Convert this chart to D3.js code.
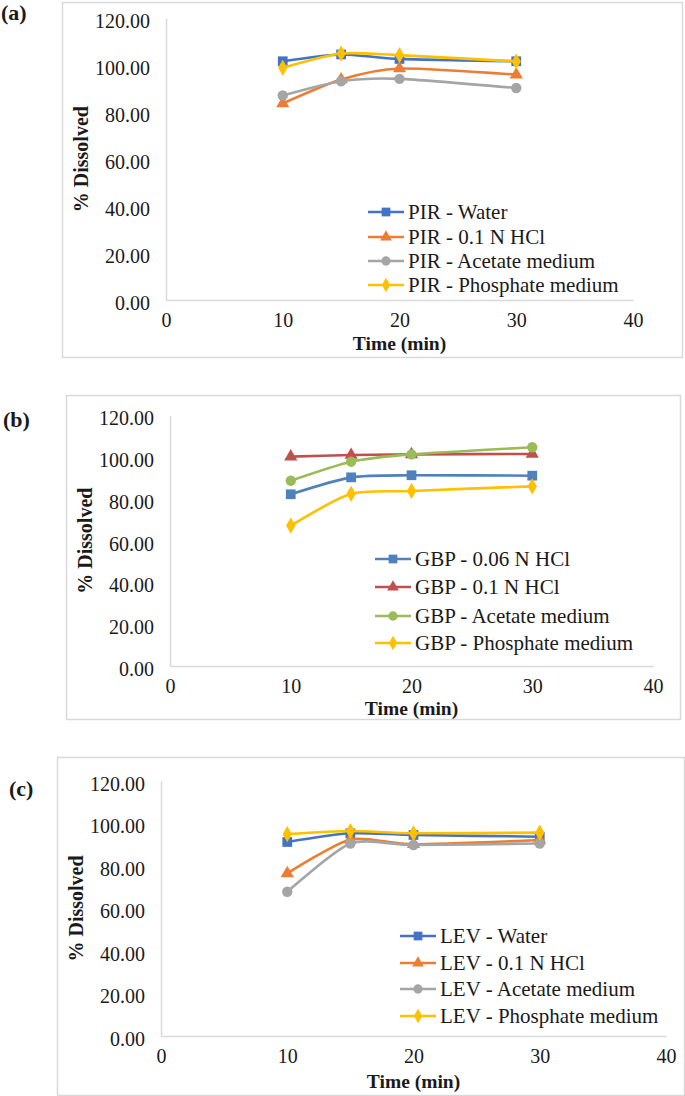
<!DOCTYPE html>
<html>
<head>
<meta charset="utf-8">
<script src="https://cdn.jsdelivr.net/npm/d3@7"></script>
<style>
  body { margin: 0; background: #fff; }
  text { font-family: "Liberation Serif", serif; fill: #1a1a1a; }
</style>
</head>
<body>
<script>
// dissolution profiles, three panels
var w = 685;
var h = 1096;

var times = [10, 15, 20, 30];
var xTicks = [0, 10, 20, 30, 40];
var yTicks = [0, 20, 40, 60, 80, 100, 120];

// (a) PIR
var pirNames = ["PIR - Water", "PIR - 0.1 N HCl", "PIR - Acetate medium", "PIR - Phosphate medium"];
var pirWater = [101.7, 104.6, 102.7, 101.7];
var pirHcl = [83.7, 93.9, 98.6, 96.0];
var pirAcetate = [87.1, 93.2, 94.2, 90.3];
var pirPhosphate = [98.9, 105.0, 104.3, 101.6];
var pirColors = ["#4472C4", "#ED7D31", "#A5A5A5", "#FFC000"];

// (b) GBP
var gbpNames = ["GBP - 0.06 N HCl", "GBP - 0.1 N HCl", "GBP - Acetate medium", "GBP - Phosphate medium"];
var gbpHcl006 = [82.2, 90.3, 91.3, 91.1];
var gbpHcl01 = [100.2, 101.0, 101.3, 101.5];
var gbpAcetate = [88.7, 97.8, 101.3, 104.7];
var gbpPhosphate = [67.2, 82.4, 83.8, 86.0];
var gbpColors = ["#4F81BD", "#C0504D", "#9BBB59", "#FFC000"];

// (c) LEV
var levNames = ["LEV - Water", "LEV - 0.1 N HCl", "LEV - Acetate medium", "LEV - Phosphate medium"];
var levWater = [91.3, 95.4, 94.6, 93.8];
var levHcl = [76.5, 92.5, 90.2, 92.2];
var levAcetate = [67.9, 90.6, 89.9, 90.6];
var levPhosphate = [95.0, 96.5, 95.4, 95.7];
var levColors = ["#4472C4", "#ED7D31", "#A5A5A5", "#FFC000"];

var markers = ["square", "triangle", "circle", "diamond"];

var svg = d3.select("body").append("svg")
            .attr("width", w)
            .attr("height", h);

// marker shape
function symbolFor(m, big) {
  var s = big ? 1 : 0.8;
  if (m == "square") return d3.symbol(d3.symbolSquare, 95 * s)();
  if (m == "triangle") return d3.symbol(d3.symbolTriangle, 75 * s)();
  if (m == "circle") return d3.symbol(d3.symbolCircle, 85 * s)();
  return d3.symbol(d3.symbolDiamond, 75 * s)();
}

function drawPanel(p) {
  var g = svg.append("g");

  // outer frame
  g.append("rect")
    .attr("x", p.frame[0] + 0.5).attr("y", p.frame[1] + 0.5)
    .attr("width", p.frame[2] - p.frame[0]).attr("height", p.frame[3] - p.frame[1])
    .attr("fill", "none").attr("stroke", "#d9d9d9").attr("stroke-width", 1.5);

  g.append("text")
    .text(p.tag)
    .attr("x", p.tagX).attr("y", p.tagY)
    .attr("dy", "0.35em")
    .attr("font-size", 22).attr("font-weight", "bold");

  var x = d3.scaleLinear().domain([0, 40]).range([p.x0, p.x1]);
  var y = d3.scaleLinear().domain([0, 120]).range([p.y0, p.y1]);

  var xAxis = g.append("g")
    .attr("transform", "translate(0," + p.y0 + ")")
    .call(d3.axisBottom(x).tickValues(xTicks).tickSize(0).tickPadding(13));
  var yAxis = g.append("g")
    .attr("transform", "translate(" + p.x0 + ",0)")
    .call(d3.axisLeft(y).tickValues(yTicks).tickFormat(d3.format(".2f")).tickSize(0).tickPadding(16));

  [xAxis, yAxis].forEach(function(a) {
    a.select(".domain").attr("stroke", "#d9d9d9").attr("stroke-width", 1.5);
    a.selectAll("text").attr("font-size", 20).attr("font-family", "Liberation Serif").attr("fill", "#1a1a1a");
  });
  yAxis.selectAll("text").attr("dy", "0.47em");

  // axis titles
  g.append("text")
    .text("Time (min)")
    .attr("x", (p.x0 + p.x1) / 2).attr("y", p.y0 + p.xtOff)
    .attr("dy", "0.35em").attr("text-anchor", "middle")
    .attr("font-size", 19.5).attr("font-weight", "bold");
  g.append("text")
    .text("% Dissolved")
    .attr("transform", "translate(" + (p.x0 - 85) + "," + (p.y0 + p.y1) / 2 + ") rotate(-90)")
    .attr("dy", "0.35em").attr("text-anchor", "middle")
    .attr("font-size", 20).attr("font-weight", "bold");

  var line = d3.line()
    .x(function(d) { return x(d[0]); })
    .y(function(d) { return y(d[1]); })
    .curve(d3.curveCardinal.tension(0.3));

  p.series.forEach(function(vals, i) {
    var pts = times.map(function(t, j) { return [t, vals[j]]; });
    g.append("path")
      .attr("d", line(pts))
      .attr("fill", "none")
      .attr("stroke", p.colors[i])
      .attr("stroke-width", 2.6);
    g.selectAll(".m" + i)
      .data(pts)
      .enter()
      .append("path")
      .attr("d", symbolFor(markers[i], true))
      .attr("transform", function(d) { return "translate(" + x(d[0]) + "," + y(d[1]) + ")"; })
      .attr("fill", p.colors[i]);
  });

  // legend
  p.names.forEach(function(n, i) {
    var ly = p.legY[i];
    g.append("line")
      .attr("x1", p.legX).attr("x2", p.legX + 36)
      .attr("y1", ly).attr("y2", ly)
      .attr("stroke", p.colors[i]).attr("stroke-width", 2.6);
    g.append("path")
      .attr("d", symbolFor(markers[i], false))
      .attr("transform", "translate(" + (p.legX + 18) + "," + ly + ")")
      .attr("fill", p.colors[i]);
    g.append("text")
      .text(n)
      .attr("x", p.legX + 40).attr("y", ly)
      .attr("dy", "0.35em")
      .attr("font-size", 21);
  });
}

drawPanel({
  tag: "(a)", tagX: 1, tagY: 12,
  frame: [62, 2, 682, 357],
  x0: 166, x1: 633, y0: 300, y1: 18.3, xtOff: 43,
  legX: 368, legY: [212, 237, 261, 285],
  names: pirNames, colors: pirColors,
  series: [pirWater, pirHcl, pirAcetate, pirPhosphate]
});

drawPanel({
  tag: "(b)", tagX: 3, tagY: 419,
  frame: [66, 395, 680, 719],
  x0: 170, x1: 653, y0: 666, y1: 415.3, xtOff: 42,
  legX: 375, legY: [559, 587, 616, 643],
  names: gbpNames, colors: gbpColors,
  series: [gbpHcl006, gbpHcl01, gbpAcetate, gbpPhosphate]
});

drawPanel({
  tag: "(c)", tagX: 9, tagY: 788,
  frame: [57, 757, 684, 1095],
  x0: 161, x1: 666, y0: 1036, y1: 781, xtOff: 45,
  legX: 400, legY: [936, 963, 989, 1016],
  names: levNames, colors: levColors,
  series: [levWater, levHcl, levAcetate, levPhosphate]
});
</script>
</body>
</html>
